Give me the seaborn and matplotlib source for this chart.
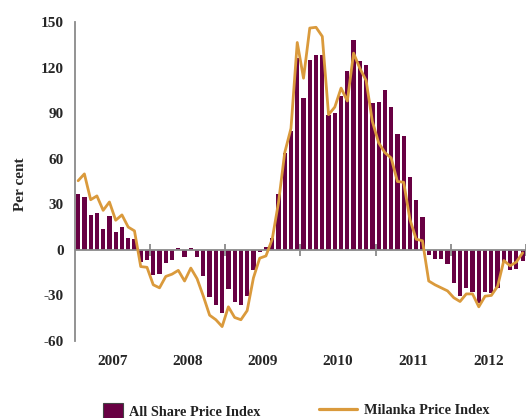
import matplotlib
matplotlib.use("Agg")
import matplotlib.pyplot as plt
import seaborn as sns
import pandas as pd
from matplotlib.patches import Patch
from matplotlib.lines import Line2D

# monthly year-on-year change, Jan 2007 .. Dec 2012
years = ["2007", "2008", "2009", "2010", "2011", "2012"]

all_share = [37, 35, 23, 24, 14, 22, 11.5, 15, 7.5, 7, -8, -7,
             -16.5, -16, -8.5, -7, 1, -4.5, 1, -4.5, -17, -31, -36.5, -41.5,
             -26, -34, -36.5, -30.5, -13, -1.5, 2, 8, 37, 63.5, 78, 126,
             100, 125, 128, 128.5, 89, 90, 101, 117.5, 138, 124.5, 121.5, 96.5,
             97.5, 105.5, 94, 76, 75, 48, 33, 21.5, -3.5, -6, -6, -9,
             -21.5, -30.5, -25, -27.5, -35, -28, -28.5, -25, -8, -13.5, -12.5, -7.5]

milanka = [45.5, 50, 33, 35.5, 26, 31.5, 19.5, 23, 15, 12.5, -11, -11.5,
           -23, -25, -17.5, -16, -13.5, -20.5, -12, -19, -30.5, -43,
           -46, -50.5, -37.5, -44.5, -46, -40, -18.5, -5.5, -4, 7, 31, 64, 80, 136.5,
           113, 146, 146.5, 140.5, 89, 94, 106.5, 98, 129.5, 119.5, 111.5, 84.5,
           70.5, 64, 60.5, 45, 44.5, 20, 7, 6, -20.5, -23, -25, -27,
           -31.5, -34, -29, -29, -37.5, -30.5, -30, -24, -7, -10.5, -8, -2]

df = pd.DataFrame({"month": range(len(all_share)),
                   "All Share Price Index": all_share,
                   "Milanka Price Index": milanka})

bar_color = "#680043"
line_color = "#DA9A3C"
grey = "#8a8a8a"

sns.set_style("white")
plt.rcParams["font.family"] = ["Liberation Serif", "DejaVu Serif"]
plt.rcParams["font.weight"] = "bold"
plt.rcParams["text.color"] = "#222222"

fig = plt.figure(figsize=(5.3, 4.18), dpi=100)
ax = fig.add_axes([0.1415, 0.1842, 0.8505, 0.7632])

sns.barplot(data=df, x="month", y="All Share Price Index",
            color=bar_color, saturation=1, width=0.68, linewidth=0, ax=ax)
sns.lineplot(data=df, x="month", y="Milanka Price Index", color=line_color,
             lw=2.0, ax=ax)

ax.set_xlim(-0.5, 71.5)
ax.set_ylim(-60, 150)

# zero line with year separators
ax.axhline(0, color=grey, lw=1.3, zorder=1)
ax.vlines([12 * k - 0.5 for k in range(1, 7)], -4, 4, color=grey, lw=1.3)

ax.set_xticks([12 * k + 5.5 for k in range(6)])
ax.set_xticklabels(years)
ax.tick_params(axis="x", length=0, pad=10, labelsize=11)

yt = list(range(-60, 151, 30))
ax.set_yticks(yt)
ax.set_yticklabels([str(v) for v in yt])
ax.tick_params(axis="y", length=6, width=1.2, color=grey, pad=2, labelsize=11)

for s in ["top", "right", "bottom"]:
    ax.spines[s].set_visible(False)
ax.spines["left"].set_color(grey)
ax.spines["left"].set_linewidth(1.3)

ax.set_xlabel("")
ax.set_ylabel("Per cent", fontsize=11, fontweight="bold")
ax.yaxis.set_label_coords(-0.106, 0.49)

fig.legend(handles=[Patch(facecolor=bar_color, edgecolor="#444444", lw=0.8,
                          label="All Share Price Index")],
           loc="center left", bbox_to_anchor=(0.181, 0.017), frameon=False,
           borderpad=0, handlelength=1.4, handleheight=1.4, handletextpad=0.4,
           prop={"size": 10.3, "weight": "bold"})
fig.legend(handles=[Line2D([], [], color=line_color, lw=2.3,
                           label="Milanka Price Index")],
           loc="center left", bbox_to_anchor=(0.589, 0.017), frameon=False,
           borderpad=0, handlelength=2.6, handletextpad=0.5,
           prop={"size": 10.3, "weight": "bold"})

fig.savefig("out.png", dpi=100)
